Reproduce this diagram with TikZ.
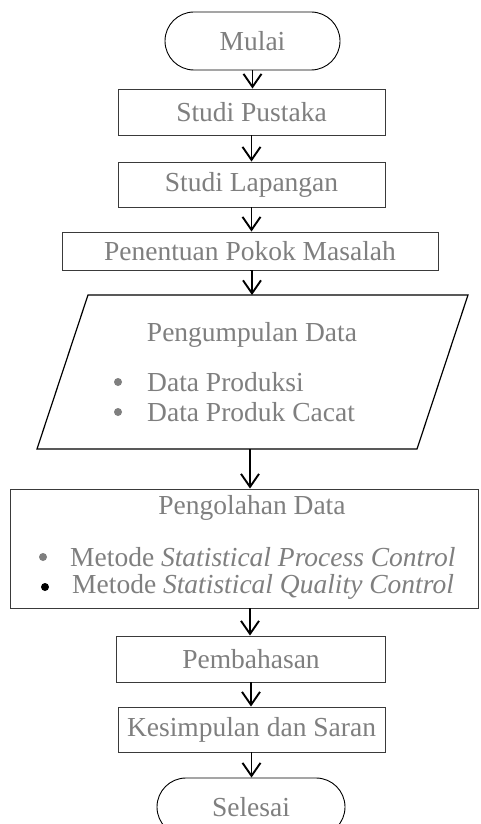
\documentclass[tikz,border=0pt]{standalone}
\usepackage{fontspec}
\setmainfont{Liberation Serif}
\usetikzlibrary{arrows.meta}
\definecolor{txt}{HTML}{7F7F7F}
\definecolor{edge}{HTML}{3A3A3A}
\begin{document}
\begin{tikzpicture}[x=1pt,y=-1pt,
  every node/.style={font=\fontsize{27.5}{31}\selectfont, text=txt, inner sep=0pt},
  procbox/.style={draw=edge, line width=0.9pt, rectangle},
  termbox/.style={draw=black, line width=0.9pt, rectangle, rounded corners=29pt},
  arr/.style={draw=black, line width=1.9pt, -{Straight Barb[length=13pt,width=18pt,line width=1.9pt]}},
  bul/.style={circle, fill=#1, minimum size=8pt, inner sep=0pt}
]
\clip (0,0) rectangle (480,824);
\fill[white] (0,0) rectangle (480,824);

\node[termbox, minimum width=175pt, minimum height=58pt] (mulai) at (252.5,41) {Mulai};
\node[procbox, minimum width=267pt, minimum height=46pt] (pustaka) at (251.5,112) {Studi Pustaka};
\node[procbox, minimum width=267pt, minimum height=45pt] (lapangan) at (251.5,184.5) {Studi Lapangan};
\node[procbox, minimum width=376pt, minimum height=38pt] (pokok) at (250,251) {Penentuan Pokok Masalah};

% parallelogram
\coordinate (p1) at (88,295);
\coordinate (p2) at (468,295);
\coordinate (p3) at (417,449);
\coordinate (p4) at (37,449);
\draw[black, line width=1.2pt] (p1) -- (p2) -- (p3) -- (p4) -- cycle;
\coordinate (ptop) at (252,295);
\coordinate (pbot) at (250,449);
\node (pgtitle) at (252,335) {Pengumpulan Data};
\node[bul=txt] (b1) at (118,382) {};
\node[anchor=west] (d1) at (147,382) {Data Produksi};
\node[bul=txt] (b2) at (118,412) {};
\node[anchor=west] (d2) at (147,412) {Data Produk Cacat};

\node[procbox, minimum width=468pt, minimum height=119pt] (olah) at (244,548.5) {};
\node (oltitle) at (252,508) {Pengolahan Data};
\node[bul=txt] (b3) at (43,557) {};
\node[anchor=west] (m1) at (70,557) {Metode \textit{Statistical Process Control}};
\node[bul=black] (b4) at (45,587) {};
\node[anchor=west] (m2) at (72,587) {Metode \textit{Statistical Quality Control}};

\node[procbox, minimum width=269pt, minimum height=46pt] (bahas) at (251,659) {Pembahasan};
\node[procbox, minimum width=267pt, minimum height=45pt] (simpul) at (251.5,729.5) {Kesimpulan dan Saran};
\node[termbox, minimum width=188pt, minimum height=58pt] (selesai) at (251,807) {Selesai};

\draw[arr] (mulai.south) -- (mulai.south |- pustaka.north);
\draw[arr] (pustaka.south) -- (pustaka.south |- lapangan.north);
\draw[arr] (lapangan.south) -- (lapangan.south |- pokok.north);
\draw[arr] (pokok.south) -- (pokok.south -| ptop) -- (ptop);
\draw[arr] (pbot) -- (pbot |- olah.north);
\draw[arr] (pbot |- olah.south) -- (pbot |- bahas.north);
\draw[arr] (bahas.south) -- (bahas.south |- simpul.north);
\draw[arr] (simpul.south) -- (simpul.south |- selesai.north);
\end{tikzpicture}
\end{document}
